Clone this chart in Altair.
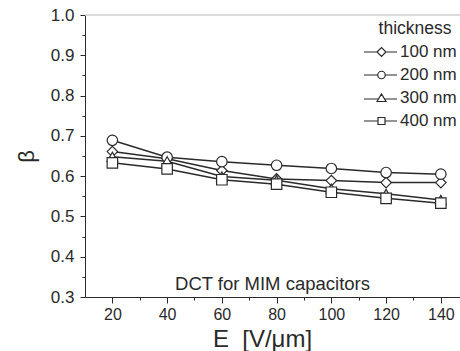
import altair as alt
import pandas as pd

E = [20, 40, 60, 80, 100, 120, 140]
beta_100 = [0.661, 0.643, 0.614, 0.593, 0.589, 0.584, 0.584]
beta_200 = [0.689, 0.647, 0.636, 0.627, 0.619, 0.609, 0.605]
beta_300 = [0.648, 0.637, 0.599, 0.590, 0.569, 0.556, 0.541]
beta_400 = [0.633, 0.618, 0.591, 0.580, 0.560, 0.545, 0.533]
thickness = ["100 nm", "200 nm", "300 nm", "400 nm"]
y_ticks = [0.3, 0.4, 0.5, 0.6, 0.7, 0.8, 0.9, 1.0]
y_minor = [0.35, 0.45, 0.55, 0.65, 0.75, 0.85, 0.95]
x_ticks = [20, 40, 60, 80, 100, 120, 140]
x_minor = [30, 50, 70, 90, 110, 130]

series = [beta_100, beta_200, beta_300, beta_400]
rows = []
for t, vals in zip(thickness, series):
    for e, b in zip(E, vals):
        rows.append({"E": e, "beta": b, "thickness": t})
df = pd.DataFrame(rows)

FONT = "Liberation Sans"
INK = "#2a2a2a"

xscale = alt.Scale(domain=[10, 147], nice=False)
yscale = alt.Scale(domain=[0.3, 1.0], nice=False)

xenc = alt.X("E:Q", scale=xscale, axis=alt.Axis(
    values=x_ticks, title="E\u00a0\u00a0[V/\u03bcm]", titleFontSize=24, titleFont=FONT,
    titleFontWeight="normal", titleColor=INK, titleX=177, titleY=49,
    titleAlign="center", titleBaseline="alphabetic",
    labelFontSize=16, labelFont=FONT,
    labelColor=INK, tickColor=INK, domainColor=INK, tickSize=6, labelPadding=3,
    grid=False, labelFlush=False))
yenc = alt.Y("beta:Q", scale=yscale, axis=alt.Axis(
    values=y_ticks, format=".1f", title="\u03b2", titleFontSize=22, titleFont=FONT,
    titleFontWeight="normal", titleColor=INK, labelFontSize=17, labelFont=FONT,
    labelColor=INK, tickColor=INK, domainColor=INK, tickSize=5, labelPadding=6,
    titlePadding=12, grid=False))

lines = alt.Chart(df).mark_line(color=INK, strokeWidth=1.5).encode(
    x=xenc, y=yenc, detail="thickness:N")

points = alt.Chart(df).mark_point(filled=True, fill="white", stroke=INK,
                                  strokeWidth=1.2, size=110, opacity=1).encode(
    x=alt.X("E:Q", scale=xscale, axis=None),
    y=alt.Y("beta:Q", scale=yscale, axis=None),
    shape=alt.Shape("thickness:N", scale=alt.Scale(
        domain=thickness, range=["diamond", "circle", "triangle-up", "square"]),
        legend=None))

legend_paths = [
    "M-3.5,0L-0.9,0M0.9,0L3.1,0M-0.9,0L0,-0.9L0.9,0L0,0.9Z",
    "M-3.5,0L-0.75,0M0.75,0L3.1,0M-0.75,0A0.75,0.75,0,1,0,0.75,0A0.75,0.75,0,1,0,-0.75,0Z",
    "M-3.5,0.2L-0.6,0.2M0.6,0.2L3.1,0.2M-0.9,0.7L0,-0.8L0.9,0.7Z",
    "M-3.5,0L-0.7,0M0.7,0L3.1,0M-0.7,-0.7L0.7,-0.7L0.7,0.7L-0.7,0.7Z",
]
legend_layer = alt.Chart(df).mark_point(opacity=0, size=100).encode(
    x=alt.X("E:Q", scale=xscale, axis=alt.Axis(
        values=x_minor, orient="bottom", labels=False, domain=False, grid=False,
        title=None, tickSize=3, tickColor=INK)),
    y=alt.Y("beta:Q", scale=yscale, axis=alt.Axis(
        values=y_minor, orient="left", labels=False, domain=False, grid=False,
        title=None, tickSize=3, tickColor=INK)),
    shape=alt.Shape("thickness:N", scale=alt.Scale(domain=thickness, range=legend_paths),
                    legend=alt.Legend(
                        title="thickness", orient="none", legendX=288, legendY=5,
                        titleFont=FONT, titleFontSize=17.5, titleFontWeight="normal",
                        titleColor=INK, titleAnchor="middle", titlePadding=6,
                        labelFont=FONT, labelFontSize=17, labelColor=INK,
                        labelOffset=10, symbolSize=100, symbolOpacity=1,
                        symbolFillColor="white", symbolStrokeColor=INK,
                        symbolStrokeWidth=1.2, rowPadding=5, padding=0)))

top_line = alt.Chart(pd.DataFrame({"y": [1.0]})).mark_rule(
    color="#cfcfcf", strokeWidth=1.5).encode(y=alt.Y("y:Q", scale=yscale, axis=None))

note = alt.Chart(pd.DataFrame({"x": [78.5], "y": [0.332], "t": ["DCT for MIM capacitors"]})).mark_text(
    font=FONT, fontSize=18.5, color=INK, baseline="middle", align="center").encode(
    x=alt.X("x:Q", scale=xscale, axis=None), y=alt.Y("y:Q", scale=yscale, axis=None),
    text="t:N")

chart = alt.layer(top_line, lines, points, legend_layer, note).resolve_scale(
    shape="independent"
).resolve_axis(x="independent", y="independent").properties(
    width=375, height=282,
    autosize=alt.AutoSizeParams(type="none"),
    padding={"left": 85, "top": 15, "right": 0, "bottom": 54},
    background="white",
).configure_view(stroke=None)

chart.save("out.html", embed_options={"renderer": "svg", "actions": False})
